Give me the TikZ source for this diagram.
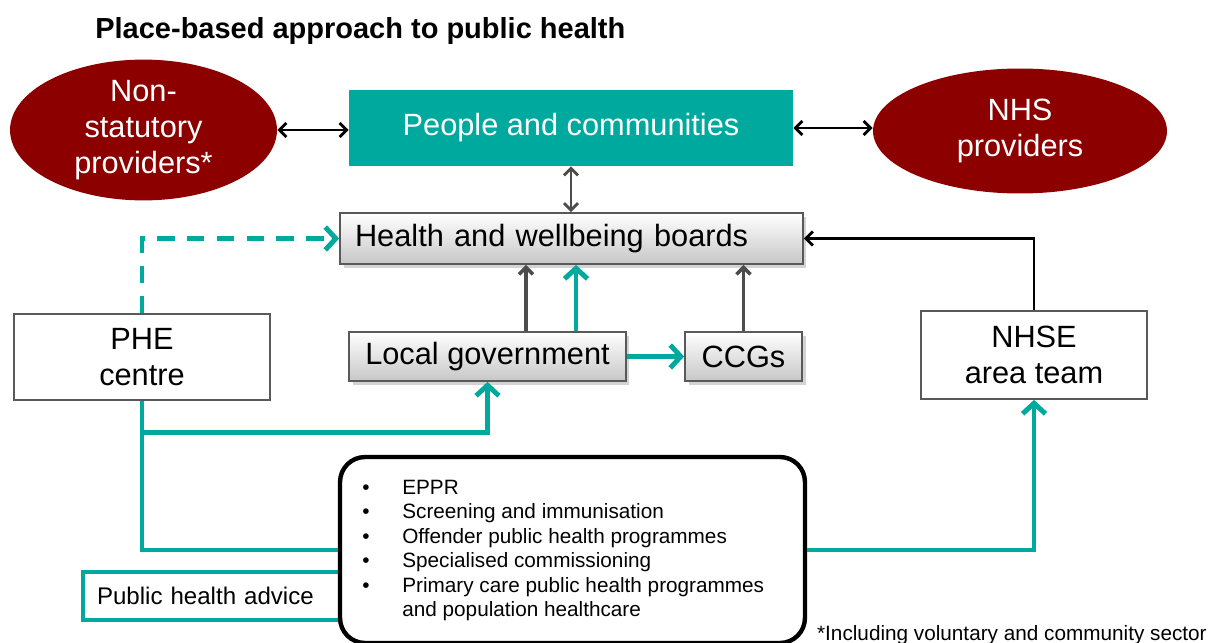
\documentclass[tikz,border=0pt]{standalone}
\usepackage{fontspec}
\setmainfont{Liberation Sans}
\usetikzlibrary{arrows.meta,shapes.geometric,shadows,calc}
\definecolor{phteal}{HTML}{00A99D}
\definecolor{provred}{HTML}{8C0000}
\definecolor{boxline}{HTML}{595959}
\tikzset{big/.style={font=\fontsize{17.5}{20.5}\selectfont},
    provider/.style={ellipse, fill=provred, text=white, align=center, inner sep=0pt, big},
    graybox/.style={draw=boxline, line width=1pt, top color=white, bottom color=black!22,
        drop shadow={shadow xshift=2pt, shadow yshift=-2pt, opacity=0.35}, inner sep=0pt, big},
    plainbox/.style={draw=boxline, line width=1pt, fill=white, align=center, inner sep=0pt, big},
    twoway/.style={line width=1.6pt, {Straight Barb[length=4pt,width=8pt]}-{Straight Barb[length=4pt,width=8pt]}},
    feed/.style={line width=2pt, draw=black!70, -{Straight Barb[length=4pt,width=8pt]}},
    tealline/.style={line width=2.8pt, draw=phteal},
    tealarrow/.style={tealline, -{Straight Barb[length=6pt,width=13pt]}},
    }

\begin{document}
\begin{tikzpicture}[x=0.02cm, y=-0.02cm]
	\useasboundingbox (0,0) rectangle (1209,642);
	\node[anchor=base west, inner sep=0pt, font=\fontsize{16.5}{19}\selectfont\bfseries] (title) at (95,39) {Place-based approach to public health};

	% top row
	\node[provider, minimum width=5.34cm, minimum height=2.72cm] (nonstat) at (143.5,130) {Non-\\statutory\\providers*};
	\node[fill=phteal, text=white, inner sep=0pt, minimum width=8.88cm, minimum height=1.52cm, big] (people) at (571,128) {People and communities};
	\node[provider, minimum width=5.88cm, minimum height=2.5cm] (nhs) at (1020,131) {NHS\\providers};

	% boards and members
	\node[graybox, inner xsep=0.3cm, text width=8.66cm, align=left, minimum height=1.02cm] (hwb) at (571.5,238.5) {Health and wellbeing boards};
	\node[graybox, minimum width=5.54cm, minimum height=0.98cm] (lg) at (487.5,356.5) {Local government};
	\node[graybox, minimum width=2.34cm, minimum height=0.98cm] (ccg) at (743.5,356.5) {CCGs};
	\node[plainbox, minimum width=5.12cm, minimum height=1.72cm] (phe) at (142,357) {PHE\\centre};
	\node[plainbox, minimum width=4.52cm, minimum height=1.76cm] (nhse) at (1034,355) {NHSE\\area team};

	% bottom
	\node[draw=phteal, line width=2pt, fill=white, inner xsep=0.28cm, inner ysep=0pt, text width=4.58cm, align=left, minimum height=0.96cm, font=\fontsize{13.7}{16}\selectfont] (advice) at (211.5,596) {Public health advice};
	\node[draw, line width=2.5pt, rounded corners=0.5cm, fill=white, minimum width=9.3cm, minimum height=3.72cm] (tasks) at (572.5,550) {};
	\node[anchor=base west, inner sep=0pt, font=\fontsize{11.8}{14}\selectfont] (duties) at (362,494) {%
		\begin{tabular}[t]{@{}p{0.8cm}@{}l@{}}
		\textbullet & EPPR\\
		\textbullet & Screening and immunisation\\
		\textbullet & Offender public health programmes\\
		\textbullet & Specialised commissioning\\
		\textbullet & Primary care public health programmes\\
		 & and population healthcare
		\end{tabular}};
	\node[anchor=base east, inner sep=0pt, font=\fontsize{11.8}{14}\selectfont] (note) at (1207,640) {*Including voluntary and community sector};

	\draw[twoway] (nonstat.east) -- (nonstat.east -| people.west);
	\draw[twoway] (people.east) -- (people.east -| nhs.west);
	\draw[twoway, draw=black!70] (people.south) -- (people.south |- hwb.north);

	\coordinate (lgA) at ($(lg.north)+(38.5,0)$);
	\coordinate (lgB) at ($(lg.north)+(88.5,0)$);
	\draw[feed] (lgA) -- (lgA |- hwb.south);
	\draw[tealarrow] (lgB) -- (lgB |- hwb.south);
	\draw[feed] (ccg.north) -- (ccg.north |- hwb.south);
	\draw[tealarrow] (lg.east) -- (ccg.west);

	\draw[line width=1.6pt, -{Straight Barb[length=4pt,width=8pt]}] (nhse.north) |- (hwb.east);
	\draw[tealarrow, dash pattern=on 10pt off 7pt] (phe.north) |- (hwb.west);
	\draw[tealarrow] (phe.south) -- ++(0,32) -| (lg.south);
	\draw[tealline] (phe.south) |- (tasks.west);
	\draw[tealarrow] (tasks.east) -| (nhse.south);
\end{tikzpicture}
\end{document}
